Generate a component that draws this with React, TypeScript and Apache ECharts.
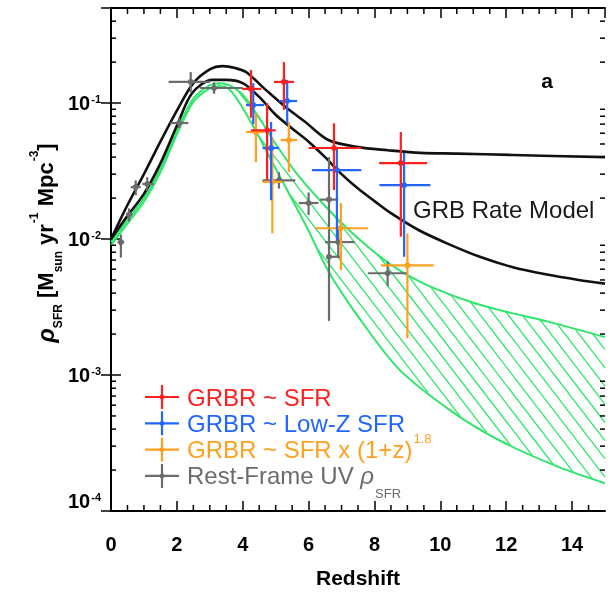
import React, { useEffect, useRef } from 'react';
import * as echarts from 'echarts';

const FONT = '"Liberation Sans", Arial, Helvetica, sans-serif';

const X_MIN = 0;
const X_MAX = 15;
const Y_MIN = 1e-4;
const Y_MAX = 0.5;
const X_TICK_STEP = 2;
const X_MINOR_TICKS = [0.5, 1, 1.5, 2.5, 3, 3.5, 4.5, 5, 5.5, 6.5, 7, 7.5, 8.5, 9, 9.5, 10.5, 11, 11.5, 12.5, 13, 13.5, 14.5];
const Y_MINOR_TICKS = [
  2e-4, 3e-4, 4e-4, 5e-4, 6e-4, 7e-4, 8e-4, 9e-4,
  2e-3, 3e-3, 4e-3, 5e-3, 6e-3, 7e-3, 8e-3, 9e-3,
  0.02, 0.03, 0.04, 0.05, 0.06, 0.07, 0.08, 0.09,
  0.2, 0.3, 0.4,
];

// GRB rate model curves (black)
const modelUpperZ = [0, 0.5, 1, 1.5, 2, 2.5, 3, 3.4, 3.8, 4.1, 4.7, 5.3, 5.9, 6.6, 7.5, 8.4, 9.4, 10.5, 12.2, 15];
const modelUpperV = [0.01, 0.0178, 0.03, 0.052, 0.088, 0.14, 0.177, 0.187, 0.18, 0.169, 0.125, 0.0935, 0.0725, 0.0535, 0.0474, 0.045, 0.043, 0.0425, 0.0415, 0.04];
const modelLowerZ = [0, 0.5, 1, 1.5, 2, 2.46, 3.07, 3.5, 4, 4.5, 5, 5.5, 6, 6.5, 7, 7.5, 8, 8.5, 9.35, 10.2, 11.2, 12.2, 13.2, 14.2, 15];
const modelLowerV = [0.01, 0.0148, 0.0215, 0.036, 0.068, 0.118, 0.148, 0.148, 0.14, 0.111, 0.082, 0.065, 0.052, 0.04, 0.03, 0.0235, 0.019, 0.0155, 0.0116, 0.0093, 0.0074, 0.0062, 0.0055, 0.005, 0.0047];

// Green SFR band
const bandUpperZ = [0, 0.5, 1, 1.5, 2, 2.5, 3, 3.3, 3.6, 4, 4.5, 5, 5.7, 6.5, 7.2, 8, 8.75, 9.5, 10.3, 11, 11.8, 13.3, 15];
const bandUpperV = [0.0095, 0.0138, 0.02, 0.033, 0.063, 0.108, 0.135, 0.14, 0.135, 0.115, 0.078, 0.05, 0.029, 0.0175, 0.0118, 0.008, 0.0059, 0.0047, 0.0039, 0.0034, 0.003, 0.00246, 0.0019];
const bandLowerZ = [0, 0.5, 1, 1.5, 2, 2.5, 3, 3.3, 3.6, 4, 4.5, 5, 5.5, 6, 6.6, 7.5, 8.75, 10.3, 11.8, 13.6, 15];
const bandLowerV = [0.009, 0.013, 0.0188, 0.031, 0.059, 0.102, 0.128, 0.133, 0.126, 0.092, 0.056, 0.033, 0.0195, 0.0115, 0.0058, 0.0027, 0.0011, 0.00055, 0.00033, 0.00021, 0.00016];

// GRBR ~ SFR (red)
const redZ = [4.25, 4.74, 5.25, 6.77, 8.8];
const redV = [0.127, 0.063, 0.143, 0.0467, 0.0362];
const redZLo = [3.98, 4.25, 4.95, 6.0, 8.14];
const redZHi = [4.56, 5.0, 5.56, 7.6, 9.6];
const redVLo = [0.078, 0.0272, 0.089, 0.0229, 0.0104];
const redVHi = [0.175, 0.1, 0.2, 0.071, 0.0612];

// GRBR ~ Low-Z SFR (blue)
const blueZ = [4.32, 4.86, 5.35, 6.86, 8.9];
const blueV = [0.0967, 0.0467, 0.1035, 0.0321, 0.0249];
const blueZLo = [4.1, 4.6, 5.1, 6.1, 8.15];
const blueZHi = [4.65, 5.1, 5.65, 7.6, 9.7];
const blueVLo = [0.07, 0.0193, 0.071, 0.0098, 0.0074];
const blueVHi = [0.14, 0.0725, 0.148, 0.0475, 0.043];

// GRBR ~ SFR x (1+z)^1.8 (orange)
const orangeZ = [4.4, 4.9, 5.4, 6.98, 9.0];
const orangeV = [0.0612, 0.0263, 0.0534, 0.012, 0.0064];
const orangeZLo = [4.1, 4.6, 5.15, 6.2, 8.2];
const orangeZHi = [4.65, 5.2, 5.65, 7.8, 9.8];
const orangeVLo = [0.0368, 0.011, 0.031, 0.0059, 0.00186];
const orangeVHi = [0.0845, 0.056, 0.0725, 0.0184, 0.011];

// Rest-frame UV rho_SFR (gray)
const grayZ = [0.3, 0.55, 0.75, 1.1, 2.07, 2.42, 3.13, 5.1, 6.0, 6.62, 6.62, 6.9, 8.4];
const grayV = [0.0095, 0.0151, 0.0241, 0.0254, 0.0713, 0.143, 0.129, 0.027, 0.0184, 0.0195, 0.0074, 0.0095, 0.0056];
const grayZLo = [0.2, 0.45, 0.6, 0.95, 1.8, 1.75, 2.7, 4.6, 5.7, 6.35, 6.55, 6.5, 7.8];
const grayZHi = [0.4, 0.65, 0.9, 1.3, 2.35, 3.0, 4.0, 5.6, 6.3, 6.9, 7.0, 7.4, 9.0];
const grayVLo = [0.0073, 0.0135, 0.021, 0.0225, 0.0655, 0.12, 0.117, 0.0235, 0.015, 0.0025, 0.0074, 0.0075, 0.0045];
const grayVHi = [0.0108, 0.0168, 0.027, 0.0285, 0.078, 0.169, 0.142, 0.031, 0.022, 0.04, 0.0074, 0.0125, 0.0068];

const C_RED = '#ff1f1f';
const C_BLUE = '#2266ff';
const C_ORANGE = '#ffa01e';
const C_GRAY = '#6b6b6b';
const C_GREEN = '#2ee66b';
const C_BLACK = '#111111';

const LEGEND_ITEMS = [
  { color: C_RED, text: '{m|GRBR ~ SFR}' },
  { color: C_BLUE, text: '{m|GRBR ~ Low-Z SFR}' },
  { color: C_ORANGE, text: '{m|GRBR ~ SFR x (1+z)}{sup|1.8}' },
  { color: C_GRAY, text: '{m|Rest-Frame UV }{mi|ρ}{sub|SFR}' },
];

function hatchSegments(poly: number[][], slope: number, step: number) {
  const len = Math.hypot(1, slope);
  const dx = 1 / len;
  const dy = slope / len;
  const nx = slope;
  const ny = -1;
  let cmin = Infinity;
  let cmax = -Infinity;
  poly.forEach((p) => {
    const c = nx * p[0] + ny * p[1];
    cmin = Math.min(cmin, c);
    cmax = Math.max(cmax, c);
  });
  const dc = slope * step;
  const segs: number[][] = [];
  for (let c = Math.ceil(cmin / dc) * dc; c <= cmax; c += dc) {
    const us: number[][] = [];
    for (let i = 0; i < poly.length; i++) {
      const p1 = poly[i];
      const p2 = poly[(i + 1) % poly.length];
      const f1 = nx * p1[0] + ny * p1[1] - c;
      const f2 = nx * p2[0] + ny * p2[1] - c;
      if ((f1 < 0) !== (f2 < 0)) {
        const t = f1 / (f1 - f2);
        const x = p1[0] + t * (p2[0] - p1[0]);
        const y = p1[1] + t * (p2[1] - p1[1]);
        us.push([x * dx + y * dy, x, y]);
      }
    }
    us.sort((a, b) => a[0] - b[0]);
    for (let k = 0; k + 1 < us.length; k += 2) {
      segs.push([us[k][1], us[k][2], us[k + 1][1], us[k + 1][2]]);
    }
  }
  return segs;
}

function lineSeries(name: string, zs: number[], vs: number[], color: string, width: number, z: number) {
  return {
    type: 'line',
    name,
    data: zs.map((x, i) => [x, vs[i]]),
    showSymbol: false,
    smooth: 0.3,
    lineStyle: { color, width },
    itemStyle: { color },
    z,
    silent: true,
  };
}

function errSeries(name: string, color: string, zs: number[], vs: number[], zlo: number[], zhi: number[], vlo: number[], vhi: number[]) {
  return {
    type: 'custom',
    name,
    z: 6,
    silent: true,
    itemStyle: { color },
    data: zs.map((x, i) => [x, vs[i], zlo[i], zhi[i], vlo[i], vhi[i]]),
    encode: { x: 0, y: 1 },
    renderItem: (_p: any, api: any) => {
      const c = api.coord([api.value(0), api.value(1)]);
      const l = api.coord([api.value(2), api.value(1)]);
      const r = api.coord([api.value(3), api.value(1)]);
      const lo = api.coord([api.value(0), api.value(4)]);
      const hi = api.coord([api.value(0), api.value(5)]);
      return {
        type: 'group',
        children: [
          { type: 'line', shape: { x1: l[0], y1: c[1], x2: r[0], y2: c[1] }, style: { stroke: color, lineWidth: 2.2 } },
          { type: 'line', shape: { x1: c[0], y1: hi[1], x2: c[0], y2: lo[1] }, style: { stroke: color, lineWidth: 2.2 } },
          { type: 'circle', shape: { cx: c[0], cy: c[1], r: 3 }, style: { fill: color } },
        ],
      };
    },
  };
}

function tickLine(x1: number, y1: number, x2: number, y2: number) {
  return { type: 'line', shape: { x1, y1, x2, y2 }, style: { stroke: '#000', lineWidth: 1.5 } };
}

export default function App() {
  const ref = useRef<HTMLDivElement>(null);
  useEffect(() => {
    const chart = echarts.init(ref.current!, null, { renderer: 'svg' });

    const yLabelRich = {
      b: { fontSize: 20, fontWeight: 'bold', fontFamily: FONT, color: '#000', lineHeight: 20, verticalAlign: 'top', padding: [0, 0, 0, 0] },
      s: { fontSize: 11, fontWeight: 'bold', fontFamily: FONT, color: '#000', lineHeight: 11, verticalAlign: 'top', padding: [0, 0, 0, 1] },
    };

    const legendRich = {
      m: { fontSize: 24, fontFamily: FONT, lineHeight: 24, verticalAlign: 'top', padding: [6, 0, 0, 0] },
      mi: { fontSize: 24, fontFamily: FONT, fontStyle: 'italic', lineHeight: 24, verticalAlign: 'top', padding: [6, 0, 0, 0] },
      sup: { fontSize: 13, fontFamily: FONT, lineHeight: 13, verticalAlign: 'top', padding: [0, 0, 0, 1] },
      sub: { fontSize: 13, fontFamily: FONT, lineHeight: 13, verticalAlign: 'top', padding: [29, 0, 0, 1] },
    };

    const legendGraphics: any[] = [];
    LEGEND_ITEMS.forEach((it, i) => {
      const cy = 397 + i * 26.3;
      const cx = 162;
      legendGraphics.push({
        type: 'group',
        children: [
          { type: 'line', shape: { x1: cx - 17, y1: cy, x2: cx + 17, y2: cy }, style: { stroke: it.color, lineWidth: 2.2 } },
          { type: 'line', shape: { x1: cx, y1: cy - 12, x2: cx, y2: cy + 12 }, style: { stroke: it.color, lineWidth: 2.2 } },
          { type: 'circle', shape: { cx, cy, r: 2.5 }, style: { fill: it.color } },
          {
            type: 'text',
            x: 187,
            y: cy - 18,
            style: {
              text: it.text,
              rich: legendRich,
              fill: it.color,
              align: 'left',
              textAlign: 'left',
              verticalAlign: 'top',
              textVerticalAlign: 'top',
            },
          },
        ],
      });
    });

    const titleRich = {
      m: { fontSize: 22, fontWeight: 'bold', fontFamily: FONT, color: '#000', lineHeight: 22, verticalAlign: 'top', padding: [8, 0, 0, 0] },
      r: { fontSize: 24, fontWeight: 'bold', fontStyle: 'italic', fontFamily: FONT, color: '#000', lineHeight: 24, verticalAlign: 'top', padding: [7, 0, 0, 0] },
      sub: { fontSize: 12, fontWeight: 'bold', fontFamily: FONT, color: '#000', lineHeight: 12, verticalAlign: 'top', padding: [26, 0, 0, 0] },
      sup: { fontSize: 12, fontWeight: 'bold', fontFamily: FONT, color: '#000', lineHeight: 12, verticalAlign: 'top', padding: [2, 0, 0, 1] },
    };

    const option: any = {
      animation: false,
      grid: { left: 111, top: 8, width: 494, height: 503, containLabel: false },
      xAxis: [
        {
          type: 'value',
          min: X_MIN,
          max: X_MAX,
          interval: X_TICK_STEP,
          position: 'bottom',
          axisLine: { lineStyle: { color: '#000', width: 2 } },
          axisTick: { inside: true, length: 10, lineStyle: { color: '#000', width: 1.5 } },
          axisLabel: { margin: 23, fontSize: 20, fontWeight: 'bold', fontFamily: FONT, color: '#000', showMaxLabel: false },
          splitLine: { show: false },
          name: 'Redshift',
          nameLocation: 'middle',
          nameGap: 56,
          nameTextStyle: { fontSize: 21, fontWeight: 'bold', fontFamily: FONT, color: '#000' },
        },
        {
          type: 'value',
          min: X_MIN,
          max: X_MAX,
          interval: X_TICK_STEP,
          position: 'top',
          axisLine: { lineStyle: { color: '#000', width: 2 } },
          axisTick: { inside: true, length: 10, lineStyle: { color: '#000', width: 1.5 } },
          axisLabel: { show: false },
          splitLine: { show: false },
        },
      ],
      yAxis: [
        {
          type: 'log',
          logBase: 10,
          min: Y_MIN,
          max: Y_MAX,
          position: 'left',
          axisLine: { lineStyle: { color: '#000', width: 2 } },
          axisTick: { inside: true, length: 10, lineStyle: { color: '#000', width: 1.5 } },
          axisLabel: {
            margin: 10,
            verticalAlignMinLabel: 'bottom',
            formatter: (v: number) => {
              const e = Math.log10(v);
              const r = Math.round(e);
              if (Math.abs(e - r) > 1e-6) return '';
              return `{b|10}{s|${r}}`;
            },
            rich: yLabelRich,
          },
          splitLine: { show: false },
        },
        {
          type: 'log',
          logBase: 10,
          min: Y_MIN,
          max: Y_MAX,
          position: 'right',
          axisLine: { lineStyle: { color: '#000', width: 2 } },
          axisTick: { inside: true, length: 10, lineStyle: { color: '#000', width: 1.5 } },
          axisLabel: { show: false },
          splitLine: { show: false },
        },
      ],
      series: [
        {
          type: 'custom',
          name: 'band-hatch',
          z: 1,
          silent: true,
          data: [[bandUpperZ[0], bandUpperV[0]]],
          renderItem: (_p: any, api: any) => {
            const poly: number[][] = [];
            bandUpperZ.forEach((x, i) => poly.push(api.coord([x, bandUpperV[i]])));
            for (let i = bandLowerZ.length - 1; i >= 0; i--) poly.push(api.coord([bandLowerZ[i], bandLowerV[i]]));
            const segs = hatchSegments(poly, 1.3, 14);
            return {
              type: 'group',
              children: segs.map((s) => ({
                type: 'line',
                shape: { x1: s[0], y1: s[1], x2: s[2], y2: s[3] },
                style: { stroke: C_GREEN, lineWidth: 1.3 },
              })),
            };
          },
        },
        lineSeries('band-upper', bandUpperZ, bandUpperV, C_GREEN, 2, 2),
        lineSeries('band-lower', bandLowerZ, bandLowerV, C_GREEN, 2, 2),
        lineSeries('model-upper', modelUpperZ, modelUpperV, C_BLACK, 2.6, 3),
        lineSeries('model-lower', modelLowerZ, modelLowerV, C_BLACK, 2.6, 3),
        errSeries('Rest-Frame UV', C_GRAY, grayZ, grayV, grayZLo, grayZHi, grayVLo, grayVHi),
        errSeries('GRBR ~ SFR x (1+z)^1.8', C_ORANGE, orangeZ, orangeV, orangeZLo, orangeZHi, orangeVLo, orangeVHi),
        errSeries('GRBR ~ Low-Z SFR', C_BLUE, blueZ, blueV, blueZLo, blueZHi, blueVLo, blueVHi),
        errSeries('GRBR ~ SFR', C_RED, redZ, redV, redZLo, redZHi, redVLo, redVHi),
        {
          type: 'custom',
          name: 'minor-x',
          z: 7,
          silent: true,
          data: X_MINOR_TICKS.map((x) => [x, Y_MIN]),
          renderItem: (_p: any, api: any) => {
            const x = api.value(0);
            const b = api.coord([x, Y_MIN]);
            const t = api.coord([x, Y_MAX]);
            return { type: 'group', children: [tickLine(b[0], b[1], b[0], b[1] - 6), tickLine(t[0], t[1], t[0], t[1] + 6)] };
          },
        },
        {
          type: 'custom',
          name: 'minor-y',
          z: 7,
          silent: true,
          data: Y_MINOR_TICKS.map((v) => [X_MIN, v]),
          renderItem: (_p: any, api: any) => {
            const v = api.value(1);
            const l = api.coord([X_MIN, v]);
            const r = api.coord([X_MAX, v]);
            return { type: 'group', children: [tickLine(l[0], l[1], l[0] + 5, l[1]), tickLine(r[0], r[1], r[0] - 5, r[1])] };
          },
        },
      ],
      graphic: [
        {
          type: 'text',
          x: 26,
          y: 243,
          rotation: Math.PI / 2,
          style: {
            text: '{r|ρ}{sub|SFR}{m| [M}{sub|sun}{m| yr}{sup|-1}{m| Mpc}{sup|-3}{m|]}',
            rich: titleRich,
            align: 'center',
            textAlign: 'center',
            verticalAlign: 'top',
            textVerticalAlign: 'top',
          },
        },
        {
          type: 'text',
          x: 547,
          y: 80,
          style: {
            text: 'a',
            fontSize: 21,
            fontWeight: 'bold',
            fontFamily: FONT,
            fill: '#000',
            align: 'center',
            textAlign: 'center',
            verticalAlign: 'middle',
            textVerticalAlign: 'middle',
          },
        },
        {
          type: 'text',
          x: 413,
          y: 209,
          style: {
            text: 'GRB Rate Model',
            fontSize: 24,
            fontFamily: FONT,
            fill: '#1a1a1a',
            align: 'left',
            textAlign: 'left',
            verticalAlign: 'middle',
            textVerticalAlign: 'middle',
          },
        },
        ...legendGraphics,
      ],
    };

    chart.setOption(option);
    return () => chart.dispose();
  }, []);
  return <div ref={ref} style={{ position: 'fixed', left: 0, top: 0, width: 612, height: 593 }} />;
}
